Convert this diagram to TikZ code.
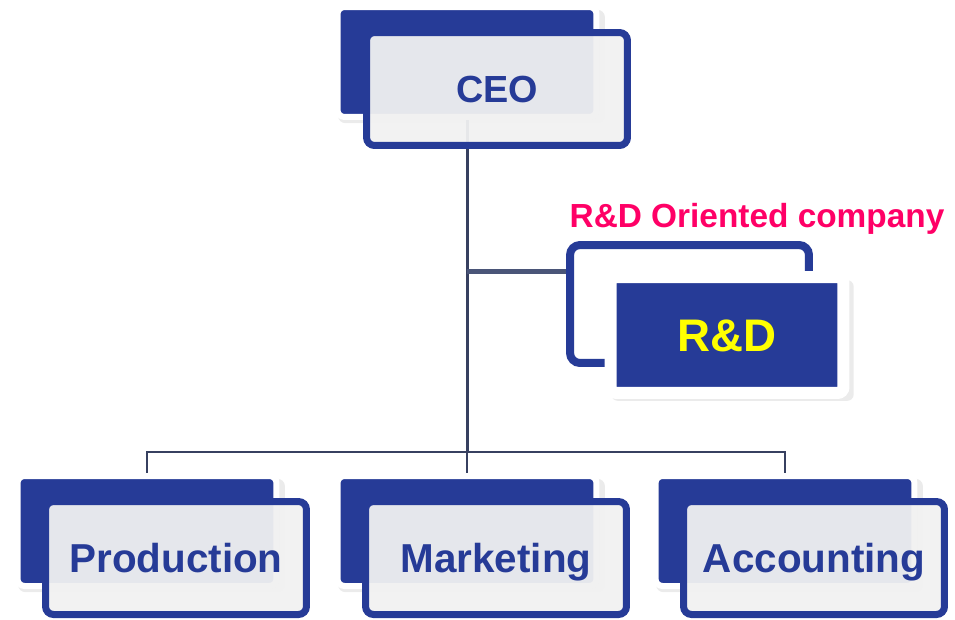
\documentclass[tikz,border=0pt]{standalone}
\usepackage{fontspec}
\setmainfont{Liberation Sans}
\usetikzlibrary{shadows}
\definecolor{boxblue}{RGB}{38,59,151}
\definecolor{boxgray}{RGB}{241,241,241}
\definecolor{linegray}{RGB}{55,64,96}
\definecolor{linkgray}{RGB}{74,85,120}
\definecolor{rdyellow}{RGB}{255,255,0}
\definecolor{rdpink}{RGB}{255,0,102}

\begin{document}
\begin{tikzpicture}[x=0.02cm,y=-0.02cm,
  backbox/.style={rectangle,rounded corners=0.14cm,fill=boxblue,draw=white,line width=0.12cm,
    minimum width=5.18cm,minimum height=2.2cm,inner sep=0pt,
    drop shadow={opacity=0.16,shadow xshift=2.5pt,shadow yshift=-2.5pt,shadow scale=1.03}},
  frontbox/.style={rectangle,rounded corners=0.16cm,fill=boxgray,fill opacity=0.945,text opacity=1,
    draw=boxblue,line width=0.14cm,minimum width=5.22cm,minimum height=2.26cm,inner sep=0pt,
    text=boxblue,text height=16.5pt,text depth=0pt,font=\bfseries\fontsize{23}{28}\selectfont},
  trunk/.style={draw=linegray,line width=0.06cm},
  busline/.style={draw=linegray,line width=0.04cm},
  link/.style={draw=linkgray,line width=0.1cm}]
\useasboundingbox (0,0) rectangle (955,619);

\coordinate (bus) at (467,452);
\coordinate (rdjoin) at (467,271);

\node[backbox] (ceob) at (467,62){};
\node[backbox] (prodb) at (147,531){};
\node[backbox] (mktb) at (467,531){};
\node[backbox] (accb) at (785,531){};
\node[rectangle,rounded corners=0.2cm,fill=white,draw=boxblue,line width=0.16cm,
  minimum width=4.78cm,minimum height=2.36cm,inner sep=0pt] (rdb) at (689.5,304){};

% connectors behind the front boxes
\path [trunk] (ceob.south) edge (bus);
\path [link] (rdjoin) edge (rdjoin -| rdb.west);
\draw [busline] (bus) -| (prodb.north);
\draw [busline] (bus) -| (accb.north);
\draw [busline] (bus) -- (mktb.north);

\node[frontbox,text height=15.4pt,font=\bfseries\fontsize{21.5}{26}\selectfont] (ceof) at (497,89){CEO};
\node[frontbox] (prodf) at (176,558){Production};
\node[frontbox] (mktf) at (496,558){Marketing};
\node[frontbox] (accf) at (814,558){Accounting};

\node[rectangle,rounded corners=0.12cm,fill=boxblue,draw=white,line width=0.24cm,
  minimum width=4.66cm,minimum height=2.32cm,inner sep=0pt,text=rdyellow,
  text height=18.6pt,text depth=0pt,font=\bfseries\fontsize{26}{30}\selectfont,
  drop shadow={opacity=0.16,shadow xshift=3pt,shadow yshift=-3pt,shadow scale=1.04}] (rdf) at (727,335){R\&D};
\node[text=rdpink,text height=13.6pt,text depth=0pt,
  font=\bfseries\fontsize{19}{22}\selectfont] (rdlabel) at (757,216){R\&D Oriented company};

\end{tikzpicture}
\end{document}
